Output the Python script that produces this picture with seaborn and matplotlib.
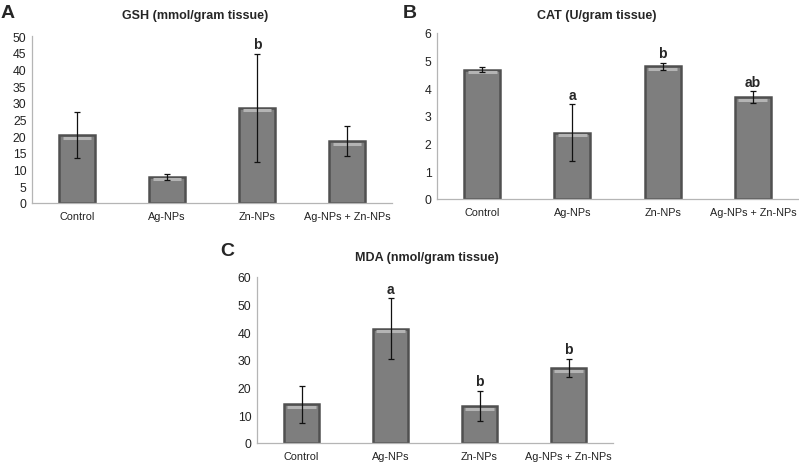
import numpy as np
import pandas as pd
import matplotlib
matplotlib.use("Agg")
import matplotlib.pyplot as plt
import seaborn as sns

categories = ["Control", "Ag-NPs", "Zn-NPs", "Ag-NPs + Zn-NPs"]

gsh_vals = [20.3, 7.8, 28.5, 18.5]
gsh_errs = [6.9, 1.0, 16.2, 4.5]
gsh_letters = ["", "", "b", ""]

cat_vals = [4.68, 2.4, 4.8, 3.68]
cat_errs = [0.1, 1.02, 0.12, 0.21]
cat_letters = ["", "a", "b", "ab"]

mda_vals = [14.0, 41.3, 13.3, 27.0]
mda_errs = [6.6, 11.0, 5.4, 3.3]
mda_letters = ["", "a", "b", "b"]

sns.set_theme(style="white")
plt.rcParams['font.family'] = ['Liberation Sans', 'DejaVu Sans']

W, H = 799, 464
fig = plt.figure(figsize=(W / 100, H / 100), dpi=100)


def px_axes(left, top, right, bottom):
    return fig.add_axes([left / W, 1 - bottom / H, (right - left) / W, (bottom - top) / H])


def panel(ax, vals, errs, letters, ymax, step, title, label, title_xy, label_xy):
    df = pd.DataFrame({"cat": categories, "val": vals})
    sns.barplot(data=df, x="cat", y="val", ax=ax, width=0.4, color="#7e7e7e",
                edgecolor="#505050", linewidth=1.8, saturation=1)
    x = np.arange(len(categories))
    ax.errorbar(x, vals, yerr=errs, fmt="none", ecolor="#111111", elinewidth=0.9,
                capsize=2.2, capthick=0.9, zorder=4)
    # light highlight strip near the top of each bar
    for p in list(ax.patches):
        bx, bw, bh = p.get_x(), p.get_width(), p.get_height()
        ax.plot([bx + bw * 0.1, bx + bw * 0.9], [bh - ymax * 0.014] * 2,
                color="#b4b4b4", lw=2.2, solid_capstyle="butt", zorder=2.5)
    for xi, v, e, t in zip(x, vals, errs, letters):
        if t:
            ax.annotate(t, (xi, v + e), xytext=(0, 2), textcoords="offset points",
                        ha="center", va="bottom", fontsize=10, fontweight="bold")
    ax.set_ylim(0, ymax)
    ax.set_xlim(-0.5, len(categories) - 0.5)
    ax.set_yticks(np.arange(0, ymax + step / 2, step))
    ax.set_xlabel("")
    ax.set_ylabel("")
    ax.tick_params(axis="x", labelsize=7.8, colors="#222222", length=0, pad=5.5)
    ax.tick_params(axis="y", labelsize=8.8, colors="#222222", length=0, pad=4)
    for s in ["top", "right"]:
        ax.spines[s].set_visible(False)
    for s in ["left", "bottom"]:
        ax.spines[s].set_color("#b5b5b5")
        ax.spines[s].set_linewidth(0.9)
    fig.text(title_xy[0] / W, 1 - title_xy[1] / H, title, ha="center", va="center",
             fontsize=9, fontweight="bold")
    fig.text(label_xy[0] / W, 1 - label_xy[1] / H, label, ha="left", va="center",
             fontsize=14, fontweight="bold")


axA = px_axes(32, 37, 392, 204)
panel(axA, gsh_vals, gsh_errs, gsh_letters, 50, 5, "GSH (mmol/gram tissue)", "A",
      (195, 16), (1, 14))

axB = px_axes(437, 34, 798, 200)
panel(axB, cat_vals, cat_errs, cat_letters, 6, 1, "CAT (U/gram tissue)", "B",
      (597, 16), (403, 13))

axC = px_axes(257, 278, 613, 444)
panel(axC, mda_vals, mda_errs, mda_letters, 60, 10, "MDA (nmol/gram tissue)", "C",
      (427, 258), (220, 252))

fig.savefig("out.png", dpi=100)
